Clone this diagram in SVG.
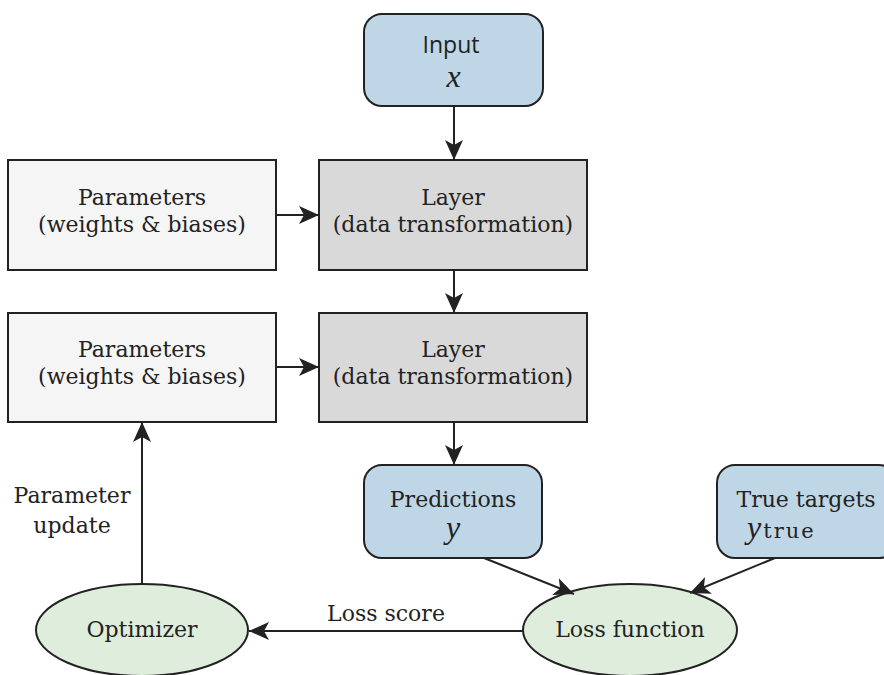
<svg xmlns="http://www.w3.org/2000/svg" width="884" height="675" viewBox="0 0 884 675">
<style>
.blue{fill:#bed6e6;stroke:#222;stroke-width:2}
.gray{fill:#d9d9d9;stroke:#222;stroke-width:2}
.light{fill:#f5f5f5;stroke:#222;stroke-width:2}
.green{fill:#dfeedc;stroke:#222;stroke-width:2}
.t{font-family:"DejaVu Serif","Liberation Serif",serif;font-size:22px;fill:#222;text-anchor:middle}
.s{font-family:"Open Sans","DejaVu Sans",sans-serif;font-size:23px;fill:#222;text-anchor:middle}
.m{font-family:"Liberation Serif",serif;font-style:italic;font-size:32px;fill:#222;text-anchor:middle}
.tt{font-family:"DejaVu Serif","Liberation Serif",serif;font-size:21px;fill:#222;letter-spacing:2px}
.c{stroke:#222;stroke-width:2;fill:none;marker-end:url(#ah)}
</style>
<defs>
<marker id="ah" viewBox="0 0 20 18" refX="20" refY="9" markerWidth="20" markerHeight="18" markerUnits="userSpaceOnUse" orient="auto">
<path d="M0,0 L20,9 L0,18 L5,9 Z" fill="#222"/>
</marker>
</defs>
<g id="input"><rect class="blue" x="364" y="14" width="179" height="92" rx="18"/><text class="s" x="451" y="53">Input</text><text class="m" x="453.5" y="87">x</text></g>
<g id="layer1"><rect class="gray" x="319" y="160" width="268" height="110"/><text class="t" x="453" y="205">Layer</text><text class="t" x="453" y="232">(data transformation)</text></g>
<g id="params1"><rect class="light" x="8" y="160" width="268" height="110"/><text class="t" x="142" y="205">Parameters</text><text class="t" x="142" y="232">(weights &amp; biases)</text></g>
<g id="layer2"><rect class="gray" x="319" y="313" width="268" height="109"/><text class="t" x="453" y="357">Layer</text><text class="t" x="453" y="384">(data transformation)</text></g>
<g id="params2"><rect class="light" x="8" y="313" width="268" height="109"/><text class="t" x="142" y="357">Parameters</text><text class="t" x="142" y="384">(weights &amp; biases)</text></g>
<g id="predictions"><rect class="blue" x="364" y="465" width="178" height="93" rx="18"/><text class="t" x="453" y="507">Predictions</text><text class="m" x="453" y="538">y</text></g>
<g id="targets"><rect class="blue" x="717" y="465" width="180" height="93" rx="18"/><text class="t" x="806" y="507">True targets</text><text x="747" y="538"><tspan class="m" style="text-anchor:start">y</tspan><tspan class="tt" dx="2">true</tspan></text></g>
<g id="loss"><ellipse class="green" cx="630" cy="630" rx="107" ry="46"/><text class="t" x="630" y="637">Loss function</text></g>
<g id="optimizer"><ellipse class="green" cx="142" cy="630" rx="106" ry="46"/><text class="t" x="142" y="637">Optimizer</text></g>
<g id="connectors">
<line class="c" x1="454" y1="106" x2="454" y2="160"/>
<line class="c" x1="454" y1="270" x2="454" y2="313"/>
<line class="c" x1="454" y1="422" x2="454" y2="465"/>
<line class="c" x1="276" y1="215" x2="319" y2="215"/>
<line class="c" x1="276" y1="367" x2="319" y2="367"/>
<line class="c" x1="484" y1="558" x2="574" y2="594"/>
<line class="c" x1="775" y1="558" x2="690" y2="593"/>
<line class="c" x1="523" y1="631" x2="249" y2="631"/>
<line class="c" x1="142" y1="584" x2="142" y2="422"/>
<text class="t" x="386" y="621">Loss score</text>
<text class="t" x="72" y="503">Parameter</text>
<text class="t" x="72" y="533">update</text>
</g>
</svg>
